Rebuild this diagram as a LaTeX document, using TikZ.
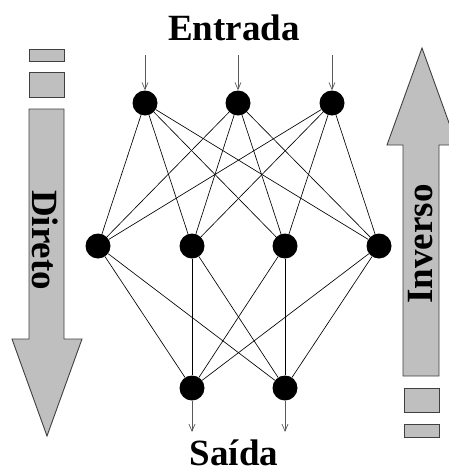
\documentclass[tikz,border=0pt]{standalone}
\usepackage{fontspec}
\setmainfont{Liberation Serif}
\usetikzlibrary{arrows.meta}
\tikzset{
  neuron/.style={circle,fill=black,inner sep=0pt,minimum size=25pt},
  flowbox/.style={draw=black!75,fill=black!25,line width=0.9pt},
  bigtext/.style={font=\fontsize{37}{37}\selectfont\bfseries,inner sep=0pt},
  feed/.style={draw=black!65,line width=0.7pt,-{Straight Barb[length=7pt,width=6pt]}}
}
\begin{document}
\begin{tikzpicture}[x=1pt,y=-1pt]
      \useasboundingbox (0,0) rectangle (449,474);
      \clip (0,0) rectangle (449,474);
      % direto / inverso
      \draw[flowbox] (29,49) rectangle (64,61);
      \draw[flowbox] (29,72) rectangle (64,97);
      \draw[flowbox] (29,109) -- (64,109) -- (64,339) -- (82,339) -- (47,436)
        -- (12,339) -- (29,339) -- cycle;
      \draw[flowbox] (404,437) rectangle (439,424);
      \draw[flowbox] (404,412) rectangle (439,388);
      \draw[flowbox] (403,376) -- (439,376) -- (439,145) -- (457,145) -- (422,48)
        -- (387,145) -- (403,145) -- cycle;
      \node[bigtext,rotate=-90] (dir) at (45,240) {Direto};
      \node[bigtext,rotate=90] (inv) at (421,244) {Inverso};
      \node[bigtext,anchor=base] (ent) at (234,40) {Entrada};
      \node[bigtext,anchor=base] (sai) at (234,465) {Saída};
      \draw
        (145,103) node[neuron] (i1){}
        (238,103) node[neuron] (i2){}
        (332,103) node[neuron] (i3){}
        (98,246) node[neuron] (h1){}
        (192,246) node[neuron] (h2){}
        (285,246) node[neuron] (h3){}
        (379,246) node[neuron] (h4){}
        (192,388) node[neuron] (o1){}
        (285,388) node[neuron] (o2){};
      \coordinate (a1) at (145,55);
      \coordinate (a2) at (238,55);
      \coordinate (a3) at (332,55);
      \coordinate (b1) at (192,432);
      \coordinate (b2) at (285,432);
      \begin{scope}[feed]
        \draw (a1) to (i1);
        \draw (a2) to (i2);
        \draw (a3) to (i3);
        \draw (o1) to (b1);
        \draw (o2) to (b2);
      \end{scope}
      \begin{scope}[-,line width=0.65pt]
        \draw (i1) to (h1);
        \draw (i1) to (h2);
        \draw (i1) to (h3);
        \draw (i1) to (h4);
        \draw (i2) to (h1);
        \draw (i2) to (h2);
        \draw (i2) to (h3);
        \draw (i2) to (h4);
        \draw (i3) to (h1);
        \draw (i3) to (h2);
        \draw (i3) to (h3);
        \draw (i3) to (h4);
        \draw (h1) to (o1);
        \draw (h1) to (o2);
        \draw (h2) to (o1);
        \draw (h2) to (o2);
        \draw (h3) to (o1);
        \draw (h3) to (o2);
        \draw (h4) to (o1);
        \draw (h4) to (o2);
      \end{scope}
    \end{tikzpicture}
\end{document}
